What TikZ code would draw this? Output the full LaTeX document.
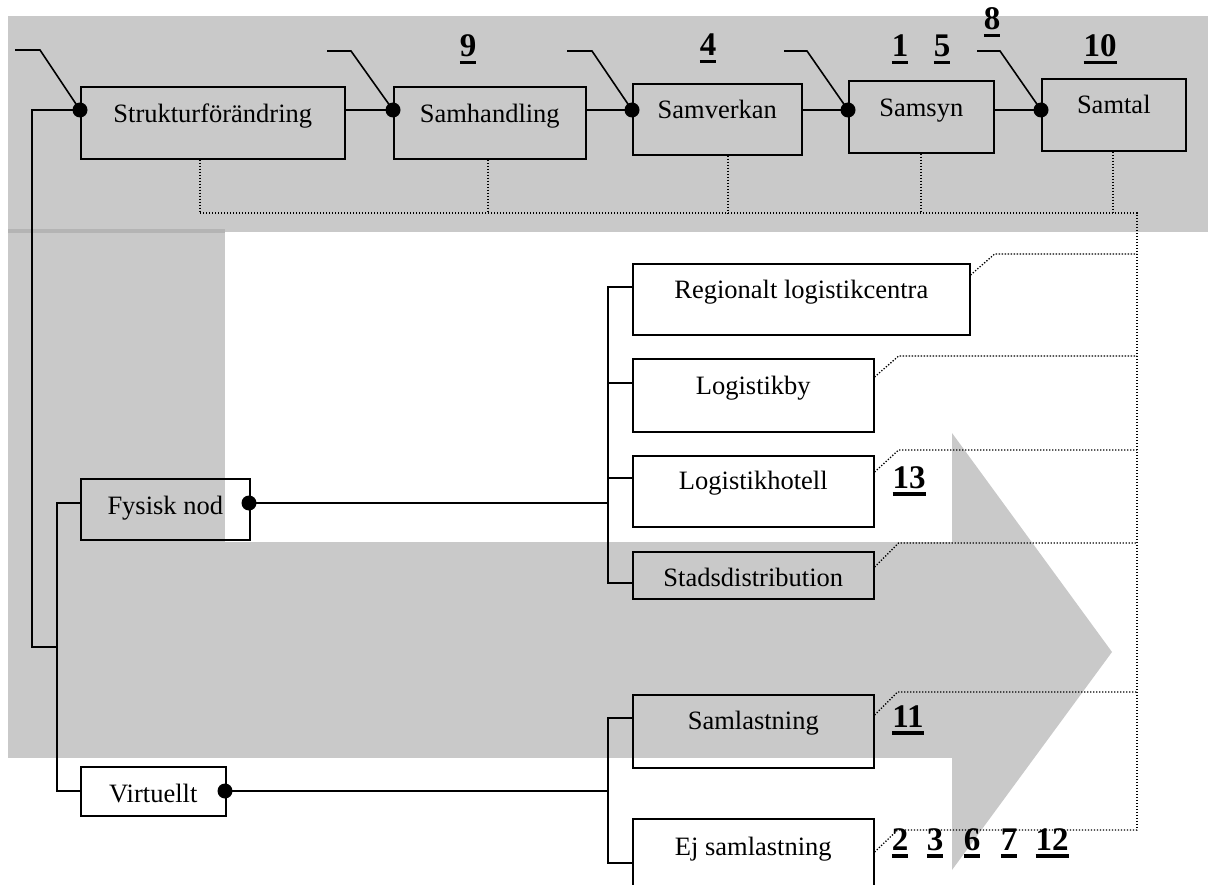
\documentclass[tikz,border=0pt]{standalone}
\usepackage{fontspec}
\setmainfont{Liberation Serif}
\usetikzlibrary{calc}
\definecolor{bandgray}{HTML}{C9C9C9}
\definecolor{seamgray}{HTML}{B4B4B4}
% bold number with a heavy underline
\newcommand{\numul}[1]{\setbox0=\hbox{\bfseries #1}\rlap{\rule[-7.5pt]{\wd0}{3.2pt}}\box0}
\tikzset{
  box/.style={draw, line width=1.6pt, inner sep=0pt, anchor=north west,
    font=\fontsize{26.5}{30}\selectfont},
  link/.style={line width=1.6pt},
  leader/.style={line width=1.3pt, dash pattern=on 1.3pt off 1.7pt},
  num/.style={anchor=base, inner sep=0pt, font=\fontsize{33}{36}\selectfont},
}
\begin{document}
\begin{tikzpicture}[x=1pt, y=-1pt]
\useasboundingbox (0,0) rectangle (1208,885);
\clip (0,0) rectangle (1208,885);

% background bands and the large arrow
\fill[bandgray] (8,16) rectangle (1208,232);
\fill[bandgray] (8,232) rectangle (225,758);
\fill[seamgray] (8,229) rectangle (225,233);
\fill[bandgray] (225,542) rectangle (952,758);
\fill[bandgray] (952,433) -- (1112,652) -- (952,870) -- cycle;

% boxes of the top chain
\node[box, minimum width=264pt, text height=36pt, text depth=36pt] (struk) at (80,86) {Strukturförändring};
\node[box, minimum width=192pt, text height=36pt, text depth=36pt] (samh) at (393,86) {Samhandling};
\node[box, minimum width=169pt, text height=35pt, text depth=36pt] (samv) at (632,83) {Samverkan};
\node[box, minimum width=145pt, text height=36pt, text depth=36pt] (samsyn) at (848,80) {Samsyn};
\node[box, minimum width=144pt, text height=35pt, text depth=37pt] (samtal) at (1041,78) {Samtal};

% node types
\node[box, minimum width=169pt, text height=36pt, text depth=25pt] (fys) at (80,478) {Fysisk nod};
\node[box, minimum width=145pt, text height=36pt, text depth=13pt] (virt) at (80,766) {Virtuellt};

% physical nodes
\node[box, minimum width=337pt, text height=35pt, text depth=36pt] (reg) at (632,263) {Regionalt logistikcentra};
\node[box, minimum width=241pt, text height=36pt, text depth=37pt] (logby) at (632,358) {Logistikby};
\node[box, minimum width=241pt, text height=34pt, text depth=37pt] (loghot) at (632,455) {Logistikhotell};
\node[box, minimum width=241pt, text height=35pt, text depth=12pt] (stads) at (632,551) {Stadsdistribution};

% virtual nodes
\node[box, minimum width=241pt, text height=35pt, text depth=38pt] (saml) at (632,694) {Samlastning};
\node[box, minimum width=241pt, text height=37pt, text depth=45pt] (ejsaml) at (632,818) {Ej samlastning};

% junction points
\coordinate (dS) at (80,110);
\coordinate (dH) at (393,110);
\coordinate (dV) at (632,110);
\coordinate (dY) at (848,110);
\coordinate (dT) at (1041,110);
\coordinate (dF) at (249,503);
\coordinate (dVi) at (225,791);

% free ends of the short lead lines above the chain
\coordinate (tS) at (15,50);
\coordinate (tH) at (327,51);
\coordinate (tV) at (567,51);
\coordinate (tY) at (784,51);
\coordinate (tT) at (977,51);

% dotted bus
\coordinate (busE) at (1137,213);
\coordinate (busB) at (1137,830);
\coordinate (pS) at ($(struk.south west)+(120,0)$);
\coordinate (pH) at ($(samh.south west)+(95,0)$);
\coordinate (pV) at ($(samv.south west)+(96,0)$);
\coordinate (pY) at ($(samsyn.south west)+(73,0)$);
\coordinate (pT) at ($(samtal.south west)+(72,0)$);
\draw[leader] (pS) -- (pS |- busE);
\draw[leader] (pH) -- (pH |- busE);
\draw[leader] (pV) -- (pV |- busE);
\draw[leader] (pY) -- (pY |- busE);
\draw[leader] (pT) -- (pT |- busE);
\draw[leader] (pS |- busE) -- (busE) -- (busB);

\draw[leader] ($(reg.north east)+(0,12)$) -- ++(24,-21) coordinate (r2) -- (r2 -| busE);
\draw[leader] ($(logby.north east)+(0,19)$) -- ++(24,-21) coordinate (b2) -- (b2 -| busE);
\draw[leader] ($(loghot.north east)+(0,17)$) -- ++(24,-22) coordinate (h2) -- (h2 -| busE);
\draw[leader] ($(stads.north east)+(0,16)$) -- ++(24,-24) coordinate (s2) -- (s2 -| busE);
\draw[leader] ($(saml.north east)+(0,21)$) -- ++(23,-23) coordinate (a2) -- (a2 -| busE);
\draw[leader] ($(ejsaml.north east)+(0,34)$) -- ++(23,-22) coordinate (e2) -- (e2 -| busE);

% chain connectors
\draw[link] (tS) -- ++(25,0) -- (dS);
\draw[link] (tH) -- ++(24,0) -- (dH);
\draw[link] (tV) -- ++(25,0) -- (dV);
\draw[link] (tY) -- ++(23,0) -- (dY);
\draw[link] (tT) -- ++(23,0) -- (dT);
\draw[link] (dH -| struk.east) -- (dH);
\draw[link] (dV -| samh.east) -- (dV);
\draw[link] (dY -| samv.east) -- (dV -| samsyn.west);
\draw[link] (dT -| samsyn.east) -- (dT);

% tree from the chain to the node types
\coordinate (trunk) at (32,647);
\coordinate (fork) at (57,647);
\draw[link] (dS) -| (trunk) -- (fork);
\draw[link] (fys.west |- dF) -| (fork) |- (virt.west |- dVi);

% physical branch
\coordinate (pspine) at (608,503);
\coordinate (rIn) at ($(reg.north west)+(0,24)$);
\coordinate (bIn) at ($(logby.north west)+(0,25)$);
\coordinate (hIn) at ($(loghot.north west)+(0,23)$);
\coordinate (sIn) at ($(stads.north west)+(0,32)$);
\draw[link] (dF) -- (pspine);
\draw[link] (rIn) -| (pspine) |- (sIn);
\draw[link] (pspine |- bIn) -- (bIn);
\draw[link] (pspine |- hIn) -- (hIn);

% virtual branch
\coordinate (vspine) at (608,791);
\coordinate (aIn) at ($(saml.north west)+(0,24)$);
\coordinate (eIn) at ($(ejsaml.north west)+(0,45)$);
\draw[link] (dVi) -- (vspine);
\draw[link] (aIn) -| (vspine) |- (eIn);

% junction dots
\foreach \d in {dS,dH,dV,dY,dT,dF,dVi}
  \fill (\d) circle (7.5pt);

% reference numbers
\node[num] (n9) at (468,57) {\numul{9}};
\node[num] (n4) at (708,56) {\numul{4}};
\node[num] (n1) at (900,57) {\numul{1}};
\node[num] (n5) at (942,57) {\numul{5}};
\node[num] (n8) at (992,30) {\numul{8}};
\node[num] (n10) at (1100,57) {\numul{10}};
\node[num] (n13) at (909,488) {\numul{13}};
\node[num] (n11) at (908,727) {\numul{11}};
\node[num] (n2) at (900,850) {\numul{2}};
\node[num] (n3) at (935,850) {\numul{3}};
\node[num] (n6) at (972,850) {\numul{6}};
\node[num] (n7) at (1009,850) {\numul{7}};
\node[num] (n12) at (1052,850) {\numul{12}};
\end{tikzpicture}
\end{document}
